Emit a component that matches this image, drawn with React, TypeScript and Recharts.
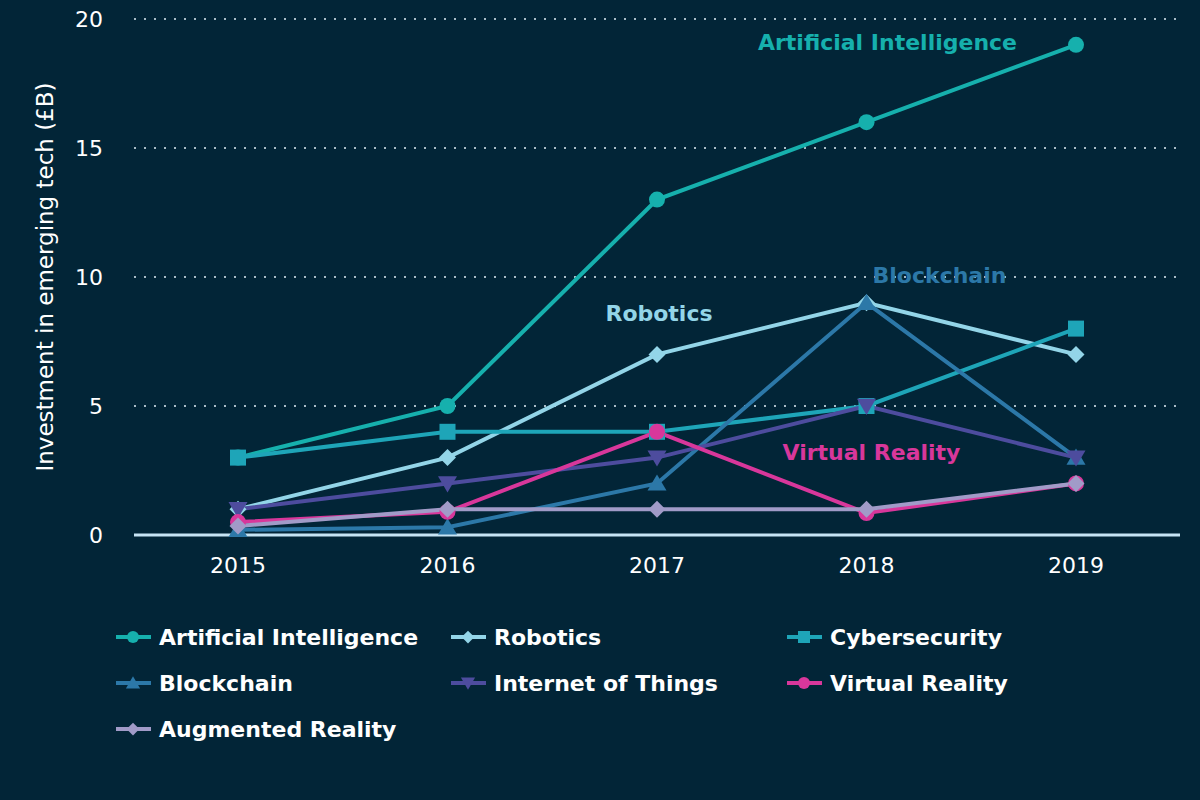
import React from "react";
import {
  LineChart,
  Line,
  XAxis,
  YAxis,
  CartesianGrid,
  ReferenceDot,
} from "recharts";

const years = ["2015", "2016", "2017", "2018", "2019"];
const yTicks = [0, 5, 10, 15, 20];

const artificialIntelligence = [3, 5, 13, 16, 19];
const robotics = [1, 3, 7, 9, 7];
const cybersecurity = [3, 4, 4, 5, 8];
const blockchain = [0.2, 0.3, 2, 9, 3];
const internetOfThings = [1, 2, 3, 5, 3];
const virtualReality = [0.5, 0.9, 4, 0.85, 2];
const augmentedReality = [0.35, 1, 1, 1, 2];

const series = [
  { key: "ai", name: "Artificial Intelligence", values: artificialIntelligence, color: "#16b0ad", shape: "circle" },
  { key: "rob", name: "Robotics", values: robotics, color: "#93d5e8", shape: "diamond" },
  { key: "cyber", name: "Cybersecurity", values: cybersecurity, color: "#1ea5b8", shape: "square" },
  { key: "block", name: "Blockchain", values: blockchain, color: "#2c78a8", shape: "triangle" },
  { key: "iot", name: "Internet of Things", values: internetOfThings, color: "#4d4c9e", shape: "triangleDown" },
  { key: "vr", name: "Virtual Reality", values: virtualReality, color: "#d8379b", shape: "circle" },
  { key: "ar", name: "Augmented Reality", values: augmentedReality, color: "#a19bc8", shape: "diamond" },
];

// in-chart annotations: anchored to a category + value, nudged in px
const annotations = [
  { text: "Artificial Intelligence", year: "2018", value: 19.1, dx: 21, color: "#16b0ad" },
  { text: "Robotics", year: "2017", value: 8.6, dx: 2, color: "#93d5e8" },
  { text: "Blockchain", year: "2018", value: 10.05, dx: 73, color: "#2c78a8" },
  { text: "Virtual Reality", year: "2018", value: 3.2, dx: 5, color: "#d8379b" },
];

const data = years.map((year, i) => {
  const row: any = { year };
  series.forEach((s) => (row[s.key] = s.values[i]));
  return row;
});

const BG = "#022537";
const FONT = "'DejaVu Sans', sans-serif";

function Marker({ cx, cy, shape, color, scale = 1 }: any) {
  if (cx == null || cy == null) return null;
  const k = scale;
  if (shape === "circle") return <circle cx={cx} cy={cy} r={8 * k} fill={color} />;
  if (shape === "square") {
    const h = 8 * k;
    return <rect x={cx - h} y={cy - h} width={2 * h} height={2 * h} fill={color} />;
  }
  if (shape === "diamond") {
    const h = 8.5 * k;
    return <polygon points={`${cx},${cy - h} ${cx + h},${cy} ${cx},${cy + h} ${cx - h},${cy}`} fill={color} />;
  }
  const w = 9.5 * k;
  const t = 9 * k;
  if (shape === "triangle") {
    return <polygon points={`${cx},${cy - t} ${cx + w},${cy + t * 0.8} ${cx - w},${cy + t * 0.8}`} fill={color} />;
  }
  return <polygon points={`${cx},${cy + t} ${cx + w},${cy - t * 0.8} ${cx - w},${cy - t * 0.8}`} fill={color} />;
}

function AxisTitle({ viewBox }: any) {
  const x = 45;
  const y = viewBox.y + viewBox.height / 2;
  return (
    <text
      x={x}
      y={y}
      transform={`rotate(-90 ${x} ${y})`}
      textAnchor="middle"
      dominantBaseline="central"
      fill="#ffffff"
      fontSize={23}
      fontFamily={FONT}
    >
      Investment in emerging tech (£B)
    </text>
  );
}

function AnnotationLabel({ viewBox, text, dx, color }: any) {
  const cx = viewBox.x + viewBox.width / 2 + dx;
  const cy = viewBox.y + viewBox.height / 2;
  return (
    <text
      x={cx}
      y={cy}
      textAnchor="middle"
      dominantBaseline="central"
      fill={color}
      fontSize={22}
      fontWeight="bold"
      fontFamily={FONT}
    >
      {text}
    </text>
  );
}

function LegendBlock() {
  return (
    <div
      style={{
        position: "absolute",
        left: 115,
        top: 614,
        width: 1005,
        display: "grid",
        gridTemplateColumns: "335px 336px 334px",
        fontFamily: FONT,
      }}
    >
      {series.map((s) => (
        <div key={s.key} style={{ display: "flex", alignItems: "center", height: 46 }}>
          <svg width={44} height={20}>
            <line x1={1} y1={10} x2={36} y2={10} stroke={s.color} strokeWidth={4} />
            <Marker cx={18} cy={10} shape={s.shape} color={s.color} scale={0.75} />
          </svg>
          <span style={{ color: "#ffffff", fontSize: 22, fontWeight: "bold" }}>{s.name}</span>
        </div>
      ))}
    </div>
  );
}

export default function App() {
  return (
    <div style={{ position: "absolute", left: 0, top: 0, width: 1200, height: 800, background: BG }}>
      <LineChart
        width={1200}
        height={600}
        data={data}
        margin={{ top: 19, right: 20, left: 0, bottom: 35 }}
      >
        <CartesianGrid
          horizontal
          vertical={false}
          stroke="#a9bcc6"
          strokeWidth={2}
          strokeDasharray="2 8"
        />
        <XAxis
          dataKey="year"
          padding={{ left: 104, right: 104 }}
          axisLine={{ stroke: "#c6e4f4", strokeWidth: 3 }}
          tickLine={false}
          tickMargin={16}
          tick={{ fill: "#ffffff", fontSize: 22, fontFamily: FONT }}
        />
        <YAxis
          width={134}
          domain={[0, 20]}
          ticks={yTicks}
          axisLine={false}
          tickLine={false}
          tickSize={0}
          tickMargin={31}
          tick={{ fill: "#ffffff", fontSize: 22, fontFamily: FONT }}
          label={<AxisTitle />}
        />
        {series.map((s) => (
          <Line
            key={s.key}
            dataKey={s.key}
            name={s.name}
            stroke={s.color}
            strokeWidth={4}
            isAnimationActive={false}
            dot={(p: any) => (
              <Marker key={`${s.key}-${p.index}`} cx={p.cx} cy={p.cy} shape={s.shape} color={s.color} />
            )}
            activeDot={false}
          />
        ))}
        {annotations.map((a) => (
          <ReferenceDot
            key={a.text}
            x={a.year}
            y={a.value}
            r={0}
            fill="none"
            stroke="none"
            label={<AnnotationLabel text={a.text} dx={a.dx} color={a.color} />}
          />
        ))}
      </LineChart>
      <LegendBlock />
    </div>
  );
}
